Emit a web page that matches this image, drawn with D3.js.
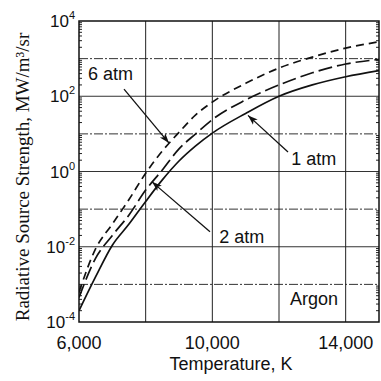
<!DOCTYPE html>
<html>
<head>
<meta charset="utf-8">
<script src="https://cdn.jsdelivr.net/npm/d3@7"></script>
<style>
  html, body { margin: 0; padding: 0; background: #fff; }
  svg { display: block; }
  text { font-family: "Liberation Sans", Arial, sans-serif; fill: #111; }
  .ytitle { font-family: "Liberation Serif", "Times New Roman", serif; }
</style>
</head>
<body>
<svg id="chart" width="381" height="381"></svg>
<script>
// temperatures (K) where the curves were read
var temps = [6000, 6500, 7000, 7500, 8000, 8500, 9000, 9500, 10000, 11000, 12000, 13000, 14000, 15000];
// radiative source strength, MW/m^3/sr
var atm1 = [2.0e-4, 1.6e-3, 1.1e-2, 4.0e-2, 0.16, 0.6, 1.9, 4.8, 10.5, 35, 100, 200, 330, 480];
var atm2 = [4.5e-4, 5.0e-3, 2.0e-2, 7.0e-2, 0.32, 1.1, 4.0, 10, 24, 80, 200, 420, 720, 950];
var atm6 = [6.3e-4, 8.9e-3, 4.0e-2, 0.18, 0.9, 3.5, 11, 32, 70, 220, 560, 1100, 1900, 2800];

var xTicks = [6000, 8000, 10000, 12000, 14000];
var xLabels = [6000, 10000, 14000];
var yDecades = [-4, -3, -2, -1, 0, 1, 2, 3, 4];
var yLabels = [-4, -2, 0, 2, 4];

// annotations: label position and arrow tail/tip, in data units
var notes = [
  { text: '6 atm', T: 6270, v: 270, from: [7350, 155], to: [8700, 5.7] },
  { text: '1 atm', T: 12370, v: 1.48, from: [12270, 3.3], to: [11070, 31] },
  { text: '2 atm', T: 10210, v: 0.0123, from: [9930, 0.025], to: [8190, 0.53] },
  { text: 'Argon', T: 12330, v: 2.8e-4 }
];

var svg = d3.select('#chart');
var M = { left: 79, right: 379, top: 21, bottom: 322 };

var x = d3.scaleLinear().domain([6000, 15000]).range([M.left, M.right]);
var y = d3.scaleLog().domain([1e-4, 1e4]).range([M.bottom, M.top]);

var defs = svg.append('defs');
defs.append('clipPath').attr('id', 'plot-clip')
  .append('rect').attr('x', M.left).attr('y', M.top)
  .attr('width', M.right - M.left).attr('height', M.bottom - M.top);
defs.append('marker')
  .attr('id', 'head').attr('viewBox', '0 0 10 10')
  .attr('refX', 10).attr('refY', 5)
  .attr('markerWidth', 10).attr('markerHeight', 10)
  .attr('markerUnits', 'userSpaceOnUse')
  .attr('orient', 'auto')
  .append('path').attr('d', 'M0,1.5 L10,5 L0,8.5 L2.5,5 Z').attr('fill', '#111');

// grid
var grid = svg.append('g');
grid.selectAll('.hgrid').data(yDecades.slice(1, -1)).enter().append('line')
  .attr('x1', M.left).attr('x2', M.right)
  .attr('y1', function(d) { return y(Math.pow(10, d)); })
  .attr('y2', function(d) { return y(Math.pow(10, d)); })
  .attr('stroke', '#333').attr('stroke-width', 1)
  .attr('stroke-dasharray', function(d) { return d % 2 ? '9,2,2,2' : null; });
grid.selectAll('.vgrid').data(xTicks.slice(1)).enter().append('line')
  .attr('x1', function(d) { return x(d); }).attr('x2', function(d) { return x(d); })
  .attr('y1', M.top).attr('y2', M.bottom)
  .attr('stroke', '#222').attr('stroke-width', 1);

// minor log ticks on left and right edges
var minor = [];
yDecades.slice(0, -1).forEach(function(e) {
  for (var k = 2; k < 10; ++k) minor.push(k * Math.pow(10, e));
});
[M.left, M.right].forEach(function(edge, i) {
  var dir = i ? -1 : 1;
  svg.append('g').selectAll('line').data(minor).enter().append('line')
    .attr('x1', edge).attr('x2', edge + dir * 3)
    .attr('y1', function(d) { return y(d); }).attr('y2', function(d) { return y(d); })
    .attr('stroke', '#222').attr('stroke-width', 1);
});

// curves
var line = d3.line()
  .x(function(d) { return x(d[0]); })
  .y(function(d) { return y(d[1]); })
  .curve(d3.curveMonotoneX);
var series = [
  { vals: atm1, dash: null },
  { vals: atm2, dash: '14,5' },
  { vals: atm6, dash: '8,5' }
];
svg.append('g').attr('clip-path', 'url(#plot-clip)')
  .selectAll('path').data(series).enter().append('path')
  .attr('d', function(s) { return line(temps.map(function(t, i) { return [t, s.vals[i]]; })); })
  .attr('fill', 'none').attr('stroke', '#111').attr('stroke-width', 1.7)
  .attr('stroke-dasharray', function(s) { return s.dash; });

// frame
svg.append('rect').attr('x', M.left).attr('y', M.top)
  .attr('width', M.right - M.left).attr('height', M.bottom - M.top)
  .attr('fill', 'none').attr('stroke', '#111').attr('stroke-width', 1.5);

// tick labels
svg.append('g').selectAll('text').data(xLabels).enter().append('text')
  .attr('x', function(d) { return x(d); }).attr('y', 349)
  .attr('text-anchor', 'middle').style('font-size', '18px')
  .text(d3.format(','));
var yl = svg.append('g').selectAll('text').data(yLabels).enter().append('text')
  .attr('x', 75).attr('y', function(d) { return y(Math.pow(10, d)) + 6; })
  .attr('text-anchor', 'end').style('font-size', '17px');
yl.append('tspan').text('10');
yl.append('tspan').attr('dy', -8).style('font-size', '11px')
  .text(function(d) { return d < 0 ? '-' + (-d) : d; });

// axis titles
svg.append('text').attr('x', (M.left + M.right) / 2 + 2).attr('y', 370)
  .attr('text-anchor', 'middle').style('font-size', '18px')
  .text('Temperature, K');
svg.append('text').attr('class', 'ytitle')
  .attr('transform', 'translate(29,177) rotate(-90)')
  .attr('text-anchor', 'middle').style('font-size', '19px')
  .text('Radiative Source Strength, MW/m³/sr');

// annotations
var ann = svg.append('g');
notes.forEach(function(n) {
  ann.append('text').attr('x', x(n.T)).attr('y', y(n.v))
    .style('font-size', '18px').text(n.text);
  if (n.from) {
    ann.append('line')
      .attr('x1', x(n.from[0])).attr('y1', y(n.from[1]))
      .attr('x2', x(n.to[0])).attr('y2', y(n.to[1]))
      .attr('stroke', '#111').attr('stroke-width', 1.3)
      .attr('marker-end', 'url(#head)');
  }
});
</script>
</body>
</html>
